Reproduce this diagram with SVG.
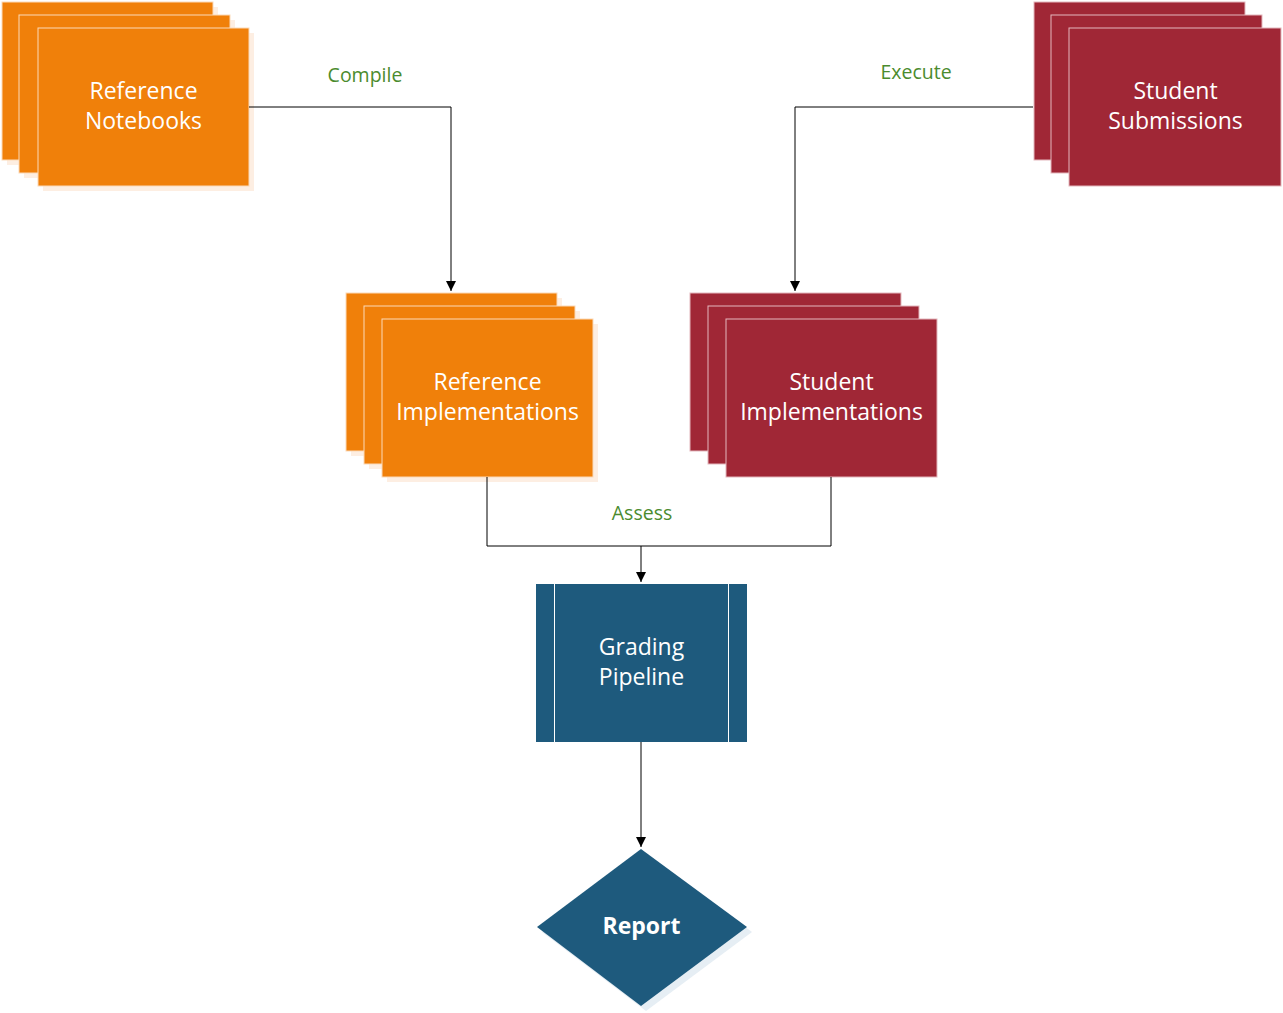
<svg xmlns="http://www.w3.org/2000/svg" width="1283" height="1013" viewBox="0 0 1283 1013">
<style>
.t{font-family:"Open Sans","Noto Sans","Liberation Sans",sans-serif;font-size:23px;fill:#fff;text-anchor:middle}
.b{font-weight:bold}
.lbl{font-family:"Open Sans","Noto Sans","Liberation Sans",sans-serif;font-size:19.5px;fill:#4b8b2e;text-anchor:middle}
.or{fill:#f0800a;stroke:#fbd9b8;stroke-width:1}
.mr{fill:#a02736;stroke:#e3b8bd;stroke-width:1}
.osh{fill:#fdeee2}
.bl{fill:#1e5a7d}
.c{fill:none;stroke:#000;stroke-width:1}
</style>
<defs>
<marker id="ah" markerWidth="12" markerHeight="12" refX="10" refY="5" orient="auto" markerUnits="userSpaceOnUse">
<path d="M0,0 L10,5 L0,10 z" fill="#000"/>
</marker>
</defs>
<g id="reference-notebooks">
<rect class="osh" x="7" y="7" width="211" height="158"/>
<rect class="or" x="2" y="2" width="211" height="158"/>
<rect class="osh" x="24" y="20" width="211" height="158"/>
<rect class="or" x="19" y="15" width="211" height="158"/>
<rect class="osh" x="43" y="33" width="211" height="158"/>
<rect class="or" x="38" y="28" width="211" height="158"/>
<text class="t" x="143.5" y="99">Reference</text>
<text class="t" x="143.5" y="129">Notebooks</text>
</g>
<g id="student-submissions">
<rect class="mr" x="1034" y="2" width="211" height="158"/>
<rect class="mr" x="1051" y="15" width="211" height="158"/>
<rect class="mr" x="1069" y="28" width="212" height="158"/>
<text class="t" x="1175.5" y="99">Student</text>
<text class="t" x="1175.5" y="129">Submissions</text>
</g>
<g id="reference-implementations">
<rect class="osh" x="351" y="298" width="211" height="158"/>
<rect class="or" x="346" y="293" width="211" height="158"/>
<rect class="osh" x="369" y="311" width="211" height="158"/>
<rect class="or" x="364" y="306" width="211" height="158"/>
<rect class="osh" x="387" y="324" width="211" height="158"/>
<rect class="or" x="382" y="319" width="211" height="158"/>
<text class="t" x="487.5" y="390">Reference</text>
<text class="t" x="487.5" y="420">Implementations</text>
</g>
<g id="student-implementations">
<rect class="mr" x="690" y="293" width="211" height="158"/>
<rect class="mr" x="708" y="306" width="211" height="158"/>
<rect class="mr" x="726" y="319" width="211" height="158"/>
<text class="t" x="831.5" y="390">Student</text>
<text class="t" x="831.5" y="420">Implementations</text>
</g>
<g id="grading-pipeline">
<rect class="bl" x="536" y="584" width="211" height="158"/>
<line x1="554.5" y1="584" x2="554.5" y2="742" stroke="#fff" stroke-width="1"/>
<line x1="728.5" y1="584" x2="728.5" y2="742" stroke="#fff" stroke-width="1"/>
<text class="t" x="641.5" y="655">Grading</text>
<text class="t" x="641.5" y="685">Pipeline</text>
</g>
<g id="report">
<polygon points="646,854 752,932 646,1011 542,932" fill="#e6eef4"/>
<polygon class="bl" points="641,849 747,927 641,1006 537,927"/>
<text class="t b" x="641.5" y="934">Report</text>
</g>
<g id="connectors">
<polyline class="c" points="249,107 451,107 451,291" marker-end="url(#ah)"/>
<polyline class="c" points="1033,107 795,107 795,291" marker-end="url(#ah)"/>
<polyline class="c" points="487,477 487,546 831,546 831,477"/>
<polyline class="c" points="641,546 641,582" marker-end="url(#ah)"/>
<polyline class="c" points="641,742 641,847" marker-end="url(#ah)"/>
<text class="lbl" x="365" y="82">Compile</text>
<text class="lbl" x="916" y="79">Execute</text>
<text class="lbl" x="642" y="520">Assess</text>
</g>
</svg>
